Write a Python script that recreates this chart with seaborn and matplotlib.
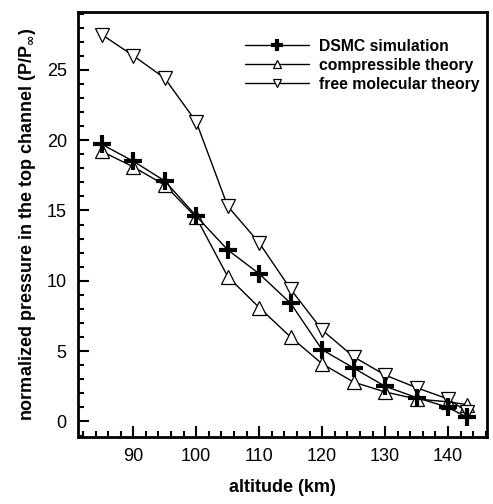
import numpy as np
import pandas as pd
import matplotlib
matplotlib.use("Agg")
import matplotlib.pyplot as plt
from matplotlib.ticker import MultipleLocator
import seaborn as sns

# données
altitude = [85, 90, 95, 100, 105, 110, 115, 120, 125, 130, 135, 140, 143]
dsmc = [19.7, 18.5, 17.1, 14.6, 12.2, 10.5, 8.4, 5.1, 3.8, 2.5, 1.7, 1.0, 0.3]
compressible = [19.2, 18.1, 16.8, 14.5, 10.3, 8.1, 6.0, 4.1, 2.8, 2.1, 1.6, 1.4, 1.2]
free_molecular = [27.5, 26.0, 24.4, 21.3, 15.3, 12.7, 9.4, 6.5, 4.6, 3.3, 2.4, 1.6, 0.7]

series = ["DSMC simulation", "compressible theory", "free molecular theory"]
df = pd.DataFrame({
    "altitude": altitude * 3,
    "pressure": dsmc + compressible + free_molecular,
    "serie": [s for s in series for _ in altitude],
})

sns.set_style("ticks", {"axes.edgecolor": "black", "xtick.color": "black",
                        "ytick.color": "black", "text.color": "black",
                        "axes.labelcolor": "black"})
plt.rcParams["font.family"] = ["Liberation Sans", "DejaVu Sans"]
plt.rcParams["mathtext.fontset"] = "dejavusans"

fig = plt.figure(figsize=(4.93, 5.04), dpi=100)
ax = fig.add_axes([0.158, 0.133, 0.830, 0.843])

# 1. Courbe DSMC (croix épaisses)
sns.lineplot(data=df[df["serie"] == series[0]], x="altitude", y="pressure", ax=ax,
             color="black", lw=1.0, marker="+", markersize=13, markeredgewidth=3,
             markeredgecolor="black", label=series[0], zorder=3)

# 2. Théories (triangles creux)
for nom, mk in [(series[1], "^"), (series[2], "v")]:
    sns.lineplot(data=df[df["serie"] == nom], x="altitude", y="pressure", ax=ax,
                 color="black", lw=1.0, marker=mk, markersize=9.5,
                 markerfacecolor="white", markeredgecolor="black",
                 markeredgewidth=0.9, label=nom, zorder=2)

ax.set_xlim(81.2, 146.2)
ax.set_ylim(-1.1, 29.1)
ax.xaxis.set_major_locator(MultipleLocator(10))
ax.xaxis.set_minor_locator(MultipleLocator(2))
ax.yaxis.set_major_locator(MultipleLocator(5))
ax.yaxis.set_minor_locator(MultipleLocator(1))
ax.tick_params(which="both", direction="in", width=1.5, labelsize=13, pad=8,
               colors="black")
ax.tick_params(which="major", length=8)
ax.tick_params(which="minor", length=4)
for s in ax.spines.values():
    s.set_linewidth(2)
    s.set_color("black")
    s.set_visible(True)

ax.set_xlabel("altitude (km)", fontsize=13, fontweight="bold", labelpad=10)
ax.set_ylabel(r"normalized pressure in the top channel (P/P$_{\mathbf{\infty}}$)",
              fontsize=13, fontweight="bold", labelpad=6)

leg = ax.legend(loc="upper right", bbox_to_anchor=(1.015, 0.97), frameon=False,
                handlelength=4.1, handletextpad=0.6, labelspacing=0.25,
                markerscale=0.65, prop={"weight": "bold", "size": 11.3})

fig.savefig("out.png", dpi=100)
